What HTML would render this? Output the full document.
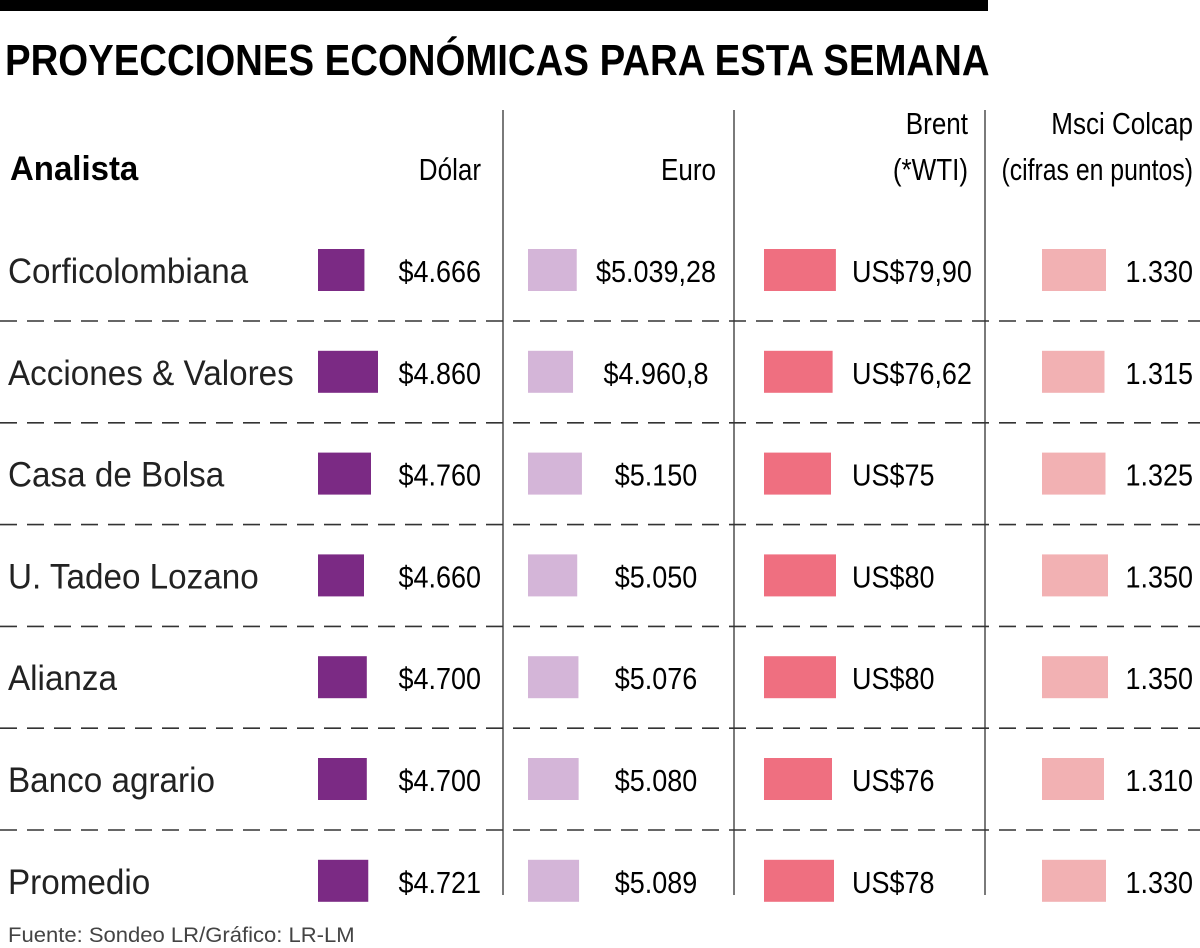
<!DOCTYPE html>
<html><head><meta charset="utf-8"><style>
html,body{margin:0;padding:0;background:#fff;width:1200px;height:948px;overflow:hidden}
svg{display:block;font-family:"Liberation Sans",sans-serif}
</style></head><body>
<svg id="chart" width="1200" height="948" viewBox="0 0 1200 948">
<rect x="0" y="0" width="988" height="11" fill="#000"/>
<g id="static"></g>
<g id="marks"></g>
</svg>
<script>
const analysts = ["Corficolombiana","Acciones & Valores","Casa de Bolsa","U. Tadeo Lozano","Alianza","Banco agrario","Promedio"];
const dolar = [4666,4860,4760,4660,4700,4700,4721];
const euro = [5039.28,4960.8,5150,5050,5076,5080,5089];
const brent = [79.90,76.62,75,80,80,76,78];
const colcap = [1330,1315,1325,1350,1350,1310,1330];
const dolarLabels = ["$4.666","$4.860","$4.760","$4.660","$4.700","$4.700","$4.721"];
const euroLabels = ["$5.039,28","$4.960,8","$5.150","$5.050","$5.076","$5.080","$5.089"];
const brentLabels = ["US$79,90","US$76,62","US$75","US$80","US$80","US$76","US$78"];
const colcapLabels = ["1.330","1.315","1.325","1.350","1.350","1.310","1.330"];

const NS="http://www.w3.org/2000/svg";
const st=document.getElementById('static'), mk=document.getElementById('marks');
function T(parent,x,y,txt,size,anchor,weight,fill,sx){
  const t=document.createElementNS(NS,'text');
  t.setAttribute('transform',`translate(${x},${y}) scale(${sx||0.86},1)`);
  t.setAttribute('font-size',size);t.setAttribute('text-anchor',anchor||'start');
  if(weight)t.setAttribute('font-weight',weight);
  t.setAttribute('fill',fill||'#111');t.textContent=txt;parent.appendChild(t);return t;
}
function R(parent,x,y,w,h,fill){
  const r=document.createElementNS(NS,'rect');
  r.setAttribute('x',x);r.setAttribute('y',y);r.setAttribute('width',w);r.setAttribute('height',h);r.setAttribute('fill',fill);
  parent.appendChild(r);return r;
}
function L(parent,x1,y1,x2,y2,dash){
  const l=document.createElementNS(NS,'line');
  l.setAttribute('x1',x1);l.setAttribute('y1',y1);l.setAttribute('x2',x2);l.setAttribute('y2',y2);
  l.setAttribute('stroke','#333');l.setAttribute('stroke-width',dash?1.6:1.3);
  if(dash)l.setAttribute('stroke-dasharray','17 10');
  parent.appendChild(l);return l;
}
let e;
e=T(st,5,75,"PROYECCIONES ECONÓMICAS PARA ESTA SEMANA",44,'start','bold','#000',0.872);


e=T(st,10,180,"Analista",34,'start','bold','#000',0.97);


e=T(st,481,180,"Dólar",31,'end',null,'#000',0.84);


e=T(st,716,180,"Euro",31,'end',null,'#000',0.84);


e=T(st,968,134,"Brent",31,'end',null,'#000',0.84);


e=T(st,968,180,"(*WTI)",31,'end',null,'#000',0.84);


e=T(st,1193,134,"Msci Colcap",31,'end',null,'#000',0.84);


e=T(st,1193,180,"(cifras en puntos)",31,'end',null,'#000',0.8);


e=T(st,8,942,"Fuente: Sondeo LR/Gráfico: LR-LM",21,'start',null,'#444',1.05);


[503,734,985].forEach((x,i)=>{
  const l=L(st,x,110,x,895);
  
  
});

const rowTop=219, rowH=101.8;
const yCenter=i=>rowTop+rowH*i+51;
const wDolar=v=>41.8+(v-4600)*0.07;
const wEuro=v=>45+(v-4960)*0.047;
const wBrent=v=>67+(v-75)*1.0;
const wColcap=v=>62+(v-1310)*0.1;
const cols=[
 {data:dolar,lab:dolarLabels,x:318,w:wDolar,c:'#7b2a84',tx:481,anc:'end',name:'dolar'},
 {data:euro,lab:euroLabels,x:528,w:wEuro,c:'#d4b5d8',tx:656,anc:'middle',name:'euro'},
 {data:brent,lab:brentLabels,x:764,w:wBrent,c:'#ef6f80',tx:852,anc:'start',name:'brent'},
 {data:colcap,lab:colcapLabels,x:1042,w:wColcap,c:'#f2b1b3',tx:1193,anc:'end',name:'colcap'}
];
analysts.forEach((a,i)=>{
  const yc=yCenter(i);
  const t=T(mk,8,yc+13,a,35,'start','300','#222',0.95);
  
  
  cols.forEach(c=>{
    const r=R(mk,c.x,yc-21,c.w(c.data[i]),42,c.c);
    
    
    const v=T(mk,c.tx,yc+12,c.lab[i],31,c.anc,null,'#000',0.87);
    
    
  });
  if(i<analysts.length-1){
    const d=L(mk,0,yc+51,1200,yc+51,true);
    
    
  }
});
</script>
</body></html>
